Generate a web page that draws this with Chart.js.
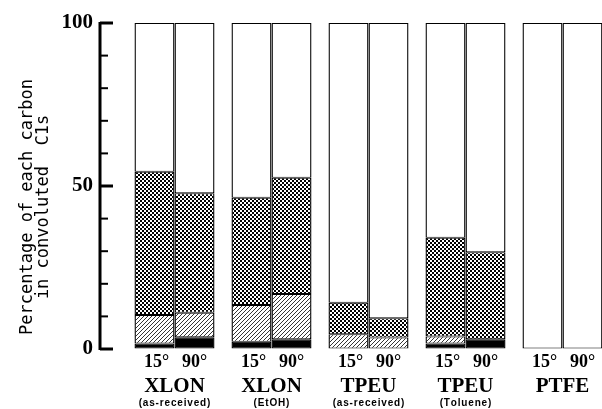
<!DOCTYPE html>
<html lang="en">
<head>
  <meta charset="UTF-8">
  <title>Carbon fractions in C1s</title>
  <script src="https://cdn.jsdelivr.net/npm/chart.js@4.4.1/dist/chart.umd.min.js"></script>
  <style>
    html, body { margin: 0; padding: 0; background: #fff; overflow: hidden; }
  </style>
</head>
<body>
<canvas id="barChart" width="625" height="409"></canvas>

<script>
  // groups along the bottom, two take-off angles per group
  const groups = ['XLON', 'XLON', 'TPEU', 'TPEU', 'PTFE'];
  const treatments = ['(as-received)', '(EtOH)', '(as-received)', '(Toluene)', ''];
  const angles = ['15°', '90°'];
  const tickValues = [0, 50, 100];

  // percentage of each carbon, bottom to top (15 deg)
  const black15 = [1.7, 2.2, 0, 1.7, 0];
  const hatch15 = [8.7, 11.3, 4.5, 2.1, 0];
  const dots15  = [44.0, 32.9, 9.7, 30.3, 0];
  const white15 = [45.6, 53.6, 85.8, 65.9, 100];

  // same at 90 deg
  const black90 = [3.6, 3.0, 0, 3.0, 0];
  const hatch90 = [7.5, 13.9, 3.5, 0, 0];
  const dots90  = [36.7, 35.6, 5.9, 26.7, 0];
  const white90 = [52.2, 47.5, 90.6, 70.3, 100];

  function makeHatch() {
    const c = document.createElement('canvas');
    c.width = 4; c.height = 4;
    const g = c.getContext('2d');
    g.fillStyle = '#fff';
    g.fillRect(0, 0, 4, 4);
    g.strokeStyle = '#000';
    g.lineWidth = 0.8;
    g.beginPath();
    g.moveTo(0, 4); g.lineTo(4, 0);
    g.moveTo(-1, 1); g.lineTo(1, -1);
    g.moveTo(3, 5); g.lineTo(5, 3);
    g.stroke();
    return g.createPattern(c, 'repeat');
  }

  function makeDots() {
    const c = document.createElement('canvas');
    c.width = 4; c.height = 4;
    const g = c.getContext('2d');
    g.fillStyle = '#fff';
    g.fillRect(0, 0, 4, 4);
    g.fillStyle = '#000';
    g.fillRect(0, 0, 2, 2);
    g.fillRect(2, 2, 2, 2);
    return g.createPattern(c, 'repeat');
  }

  const hatchFill = makeHatch();
  const dotFill = makeDots();
  const edge = {left: 1.4, right: 1.4, top: 1, bottom: 1};

  function layer(data, fill, stack) {
    return {
      data: data,
      stack: stack,
      backgroundColor: fill,
      borderColor: '#000',
      borderWidth: edge,
      borderSkipped: false
    };
  }

  // y axis drawn with inward ticks, left of the plot
  const axisPlugin = {
    id: 'axisPlugin',
    afterDraw(chart) {
      const ctx = chart.ctx;
      const y = chart.scales.y;
      const ax = chart.chartArea.left - 26;
      ctx.save();
      ctx.strokeStyle = '#000';
      ctx.lineWidth = 3;
      ctx.beginPath();
      ctx.moveTo(ax, y.getPixelForValue(100) - 1);
      ctx.lineTo(ax, y.getPixelForValue(0) + 1);
      ctx.stroke();
      y.ticks.forEach(t => {
        const py = y.getPixelForValue(t.value);
        const major = tickValues.includes(t.value);
        ctx.lineWidth = major ? 3 : 2;
        ctx.beginPath();
        ctx.moveTo(ax, py);
        ctx.lineTo(ax + (major ? 13 : 8), py);
        ctx.stroke();
      });

      // axis title
      ctx.fillStyle = '#000';
      ctx.font = '17px "DejaVu Sans Mono"';
      ctx.textAlign = 'center';
      ctx.textBaseline = 'middle';
      ctx.translate(28, 207);
      ctx.rotate(-Math.PI / 2);
      ctx.fillText('Percentage of each carbon', 0, 0);
      ctx.fillText('in convoluted  C1s', 0, 16);
      ctx.restore();

      // category labels under each group
      const x = chart.scales.x;
      const m15 = chart.getDatasetMeta(0);
      const m90 = chart.getDatasetMeta(4);
      ctx.save();
      ctx.fillStyle = '#000';
      ctx.textAlign = 'center';
      ctx.textBaseline = 'alphabetic';
      groups.forEach((name, i) => {
        ctx.font = 'bold 18px "Liberation Serif"';
        ctx.fillText(angles[0], m15.data[i].x + 2, 367);
        ctx.fillText(angles[1], m90.data[i].x, 367);
        ctx.font = 'bold 21px "Liberation Serif"';
        ctx.fillText(name, x.getPixelForValue(i), 392);
        ctx.font = 'bold 10px "Liberation Sans"';
        ctx.fillText(treatments[i].split('').join(String.fromCharCode(8202)), x.getPixelForValue(i), 406);
      });
      ctx.restore();
    }
  };

  new Chart(document.getElementById('barChart'), {
    type: 'bar',
    data: {
      labels: groups,
      datasets: [
        layer(black15, '#000', 'a15'),
        layer(hatch15, hatchFill, 'a15'),
        layer(dots15, dotFill, 'a15'),
        layer(white15, '#fff', 'a15'),
        layer(black90, '#000', 'a90'),
        layer(hatch90, hatchFill, 'a90'),
        layer(dots90, dotFill, 'a90'),
        layer(white90, '#fff', 'a90')
      ]
    },
    options: {
      responsive: false,
      animation: false,
      events: [],
      layout: { padding: { top: 23, bottom: 60, right: 14, left: 0 } },
      categoryPercentage: 0.825,
      barPercentage: 1,
      plugins: {
        legend: { display: false },
        tooltip: { enabled: false }
      },
      scales: {
        x: {
          stacked: true,
          display: false
        },
        y: {
          stacked: true,
          min: 0,
          max: 100,
          grid: {
            display: true,
            drawOnChartArea: false,
            drawTicks: true,
            tickLength: 30,
            color: 'rgba(0,0,0,0)'
          },
          border: { display: false },
          afterFit(s) { s.width = 126; },
          ticks: {
            stepSize: 10,
            padding: 3,
            color: '#000',
            font: { family: '"Liberation Serif"', size: 21, weight: 'bold' },
            callback: v => tickValues.includes(v) ? String(v) : ''
          }
        }
      }
    },
    plugins: [axisPlugin]
  });
</script>
</body>
</html>
